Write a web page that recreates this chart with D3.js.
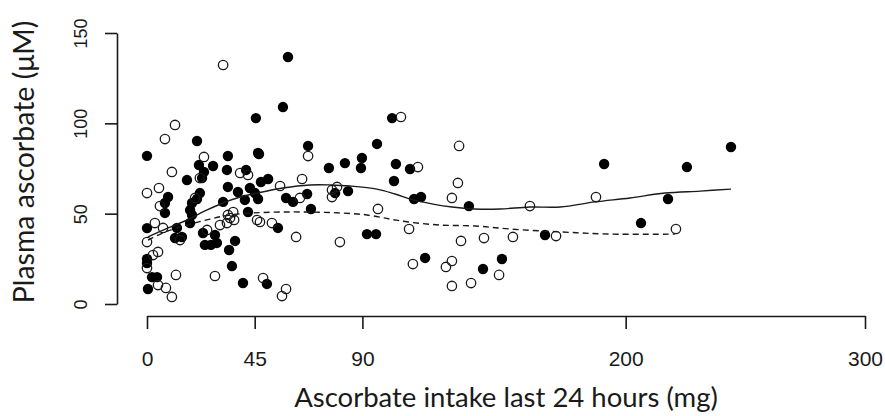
<!DOCTYPE html>
<html>
<head>
<meta charset="utf-8">
<script src="https://cdn.jsdelivr.net/npm/d3@7"></script>
<style>
  html, body { margin: 0; padding: 0; background: #fff; }
  svg { display: block; }
</style>
</head>
<body>
<svg id="chart" width="885" height="416"></svg>
<script>
// Ascorbate intake (mg, last 24 h) vs plasma ascorbate (µM)

// Group shown with filled circles: [intake, plasma]
const closedPts = [
  [0, 82], [0, 42], [0, 25], [0, 22.7], [0.4, 8.3], [2.1, 14.9], [4.2, 14.9],
  [7.5, 50.4], [8.8, 59.2], [7.5, 55.9], [12.5, 42.1], [11.7, 36.5], [14.6, 37.1],
  [16.7, 68.6], [18, 44.8], [18, 52], [18.8, 55.9], [20.9, 90.2], [21.7, 76.9],
  [27.6, 76.4], [23.8, 73.1], [23, 69.7], [22.1, 61.4], [20.9, 58.1], [18.8, 49.3],
  [23.4, 39.3], [24.2, 32.7], [26.7, 32.7], [29.2, 33.8], [28.4, 38.2], [36.8, 34.9],
  [34.3, 29.9], [35.5, 21], [40.1, 11.6], [33.8, 81.9], [46.4, 83.6], [33.4, 74.2],
  [41.4, 74.2], [33.8, 64.8], [38, 62], [43, 64.2], [45.1, 61.4], [46.4, 58.1],
  [40.9, 57.6], [31.8, 56.5], [42.2, 50.9], [58.9, 136.7], [56.8, 109], [45.5, 102.9],
  [46.8, 83], [67.3, 87.5], [76, 75.3], [82.7, 78], [89.8, 80.8], [89.4, 75.3],
  [96.1, 88.6], [47.6, 67.5], [50.6, 69.2], [58.1, 58.7], [61, 56.5], [66.9, 60.9],
  [68.5, 52.6], [78.6, 61.4], [84, 62.5], [54.7, 42.1], [91.9, 38.7], [95.7, 38.7],
  [50.1, 11.1], [102.4, 102.9], [104, 77.5], [109.9, 74.7], [103.2, 68.1],
  [111.6, 58.1], [114.5, 59.2], [134.5, 54.2], [116.2, 25.5], [140.4, 19.4],
  [148.3, 24.9], [166.3, 38.2], [191, 77.5], [225.6, 75.8], [244, 86.9],
  [217.7, 58.1], [206.4, 44.8]
];

// Group shown with open circles: [intake, plasma]
const openPts = [
  [0, 61.4], [0, 34.3], [0, 19.9], [2.5, 27.1], [4.6, 28.8], [5, 64.2], [5.4, 54.2],
  [3.3, 44.8], [6.7, 42.1], [7.5, 91.3], [11.7, 99.1], [10.4, 73.1], [12.1, 16.1],
  [4.6, 10.5], [7.9, 8.9], [10.4, 3.9], [13.8, 35.4], [20.1, 58.7], [22.1, 69.7],
  [23.8, 81.4], [25.1, 41], [28.4, 15.5], [30.5, 43.7], [33.4, 44.8], [34.7, 47.6],
  [36, 50.9], [36.4, 46.5], [33.8, 49.3], [38.9, 72.5], [42.2, 71.4], [31.8, 132.3],
  [46, 46.5], [47.2, 45.4], [52.2, 44.8], [55.6, 65.3], [64.8, 69.2], [63.9, 58.7],
  [67.3, 81.9], [77.3, 63.1], [79.4, 64.8], [77.3, 59.2], [96.5, 52.6], [62.3, 37.1],
  [80.6, 34.3], [48.5, 14.4], [58.1, 8.3], [56.4, 4.4], [109.5, 41.5], [111.1, 22.1],
  [124.9, 20.5], [127.4, 23.8], [127.4, 10], [135.4, 11.6], [147.1, 16.1],
  [131.2, 34.9], [140.8, 36.5], [152.9, 37.1], [170.9, 37.6], [160, 54.2],
  [106.1, 103.5], [130.4, 87.5], [113.2, 75.8], [129.9, 67], [127.4, 58.7],
  [187.6, 59.2], [221, 41.5]
];

// Smoothed fits for each group
const closedFit = [
  [0.4, 37.1], [8.8, 42.1], [16.7, 46.5], [24.2, 51.5], [31.8, 55.9], [38.9, 59.2],
  [46, 61.4], [56.8, 64.2], [68.1, 65.9], [76.5, 65.9], [84.9, 65.3], [96.1, 63.6],
  [103.6, 60.9], [111.1, 57.6], [119.5, 55.3], [127.4, 53.7], [137, 52.6],
  [147.5, 52.6], [160, 53.7], [172.6, 53.7], [187.2, 56.5], [201.8, 58.7],
  [216.4, 61.4], [231.1, 62.5], [244, 63.6]
];
const openFit = [
  [0.4, 35.4], [7.5, 39.8], [16.7, 43.7], [26.3, 47], [34.7, 49.3], [44.3, 50.4],
  [55.6, 50.9], [68.1, 50.9], [80.6, 50.4], [91.9, 49.3], [101.5, 47], [109.1, 45.4],
  [122.4, 43.7], [137, 43.2], [151.7, 41.5], [172.6, 39.9], [193.5, 38.7], [220.6, 38.7]
];

const xTicks = [0, 45, 90, 200, 300];
const yTicks = [0, 50, 100, 150];
const xTitle = "Ascorbate intake last 24 hours (mg)";
const yTitle = "Plasma ascorbate (\u03BCM)";

const svg = d3.select("#chart");
const ink = "#1a1a1a";

const x = d3.scaleLinear().domain([0, 300]).range([147, 865]);
const y = d3.scaleLinear().domain([0, 150]).range([304, 33]);

// x axis, detached below the plotting area
const xAxis = svg.append("g")
  .attr("transform", "translate(0,316)")
  .call(d3.axisBottom(x).tickValues(xTicks).tickSize(13).tickSizeOuter(0).tickPadding(22))
  .call(g => g.select(".domain").attr("stroke", ink).attr("stroke-width", 1.6));
xAxis.selectAll(".tick line").attr("stroke", ink).attr("stroke-width", 1.6);
xAxis.selectAll(".tick text")
  .attr("fill", ink)
  .style("font-family", "'Liberation Sans', Arial, sans-serif")
  .style("font-size", "21px");

// y axis, detached to the left, labels rotated
const yAxis = svg.append("g")
  .attr("transform", "translate(117,0)")
  .call(d3.axisLeft(y).tickValues(yTicks).tickSize(12).tickSizeOuter(0))
  .call(g => g.select(".domain").attr("stroke", ink).attr("stroke-width", 1.6));
yAxis.selectAll(".tick line").attr("stroke", ink).attr("stroke-width", 1.6);
yAxis.selectAll(".tick text")
  .attr("fill", ink)
  .attr("x", null).attr("dy", null)
  .attr("text-anchor", "middle")
  .attr("transform", "translate(-30,0) rotate(-90)")
  .style("font-family", "'Liberation Sans', Arial, sans-serif")
  .style("font-size", "18px");

// axis titles
svg.append("text")
  .attr("x", 506).attr("y", 407)
  .attr("text-anchor", "middle")
  .attr("fill", ink)
  .style("font-family", "Lato, 'Open Sans', sans-serif")
  .style("font-size", "27.5px")
  .text(xTitle);

svg.append("text")
  .attr("transform", "translate(34,162) rotate(-90)")
  .attr("text-anchor", "middle")
  .attr("fill", ink)
  .style("font-family", "Lato, 'Open Sans', sans-serif")
  .style("font-size", "28.5px")
  .text(yTitle);

// points
const plot = svg.append("g");
plot.selectAll("circle.closed")
  .data(closedPts).join("circle")
  .attr("class", "closed")
  .attr("cx", d => x(d[0])).attr("cy", d => y(d[1]))
  .attr("r", 5.2)
  .attr("fill", "#000");

plot.selectAll("circle.open")
  .data(openPts).join("circle")
  .attr("class", "open")
  .attr("cx", d => x(d[0])).attr("cy", d => y(d[1]))
  .attr("r", 4.7)
  .attr("fill", "none")
  .attr("stroke", ink)
  .attr("stroke-width", 1.3);

// fitted curves
const line = d3.line().x(d => x(d[0])).y(d => y(d[1])).curve(d3.curveCatmullRom.alpha(0.5));
plot.append("path")
  .attr("d", line(closedFit))
  .attr("fill", "none").attr("stroke", ink).attr("stroke-width", 1.4);
plot.append("path")
  .attr("d", line(openFit))
  .attr("fill", "none").attr("stroke", ink).attr("stroke-width", 1.4)
  .attr("stroke-dasharray", "6,4");
</script>
</body>
</html>
